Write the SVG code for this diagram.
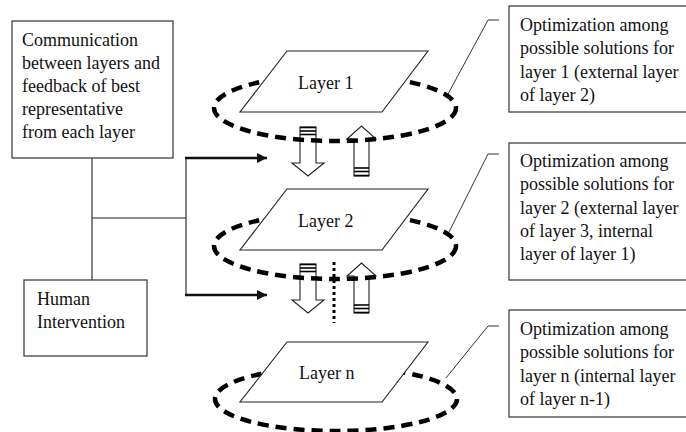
<svg xmlns="http://www.w3.org/2000/svg" width="686" height="432" viewBox="0 0 686 432">
<defs>
<style>
.t{font-family:"Liberation Serif","Times New Roman",serif;font-size:18px;fill:#111}
.box{fill:#fff;stroke:#333;stroke-width:1.2}
.thin{fill:none;stroke:#222;stroke-width:1.1}
.thick{fill:none;stroke:#111;stroke-width:2.5}
.ell{fill:none;stroke:#000;stroke-width:4.5;stroke-dasharray:11 7}
.par{fill:#fff;stroke:#222;stroke-width:1.1}
.blk{fill:#fff;stroke:#222;stroke-width:1.1}
.stripe{stroke:#000;stroke-width:1.6}
.lead{fill:none;stroke:#333;stroke-width:1}
</style>
<marker id="ah" viewBox="0 0 10 10" refX="10" refY="5" markerWidth="4" markerHeight="4" orient="auto" markerUnits="strokeWidth">
<path d="M0,0 L10,5 L0,10 Z" fill="#111"/>
</marker>
</defs>
<rect width="686" height="432" fill="#fff"/>

<g id="connectors">
<line class="thin" x1="92" y1="158" x2="92" y2="280"/>
<line class="thin" x1="92" y1="218" x2="186" y2="218"/>
<line class="thin" x1="186" y1="158" x2="186" y2="295"/>
<line class="thick" x1="185" y1="158" x2="267" y2="158" marker-end="url(#ah)"/>
<line class="thick" x1="185" y1="295" x2="267" y2="295" marker-end="url(#ah)"/>
<polyline class="lead" points="499,20 488,20 448,94"/>
<polyline class="lead" points="499,154 488,154 449,232"/>
<polyline class="lead" points="499,326 488,326 446,378"/>
<g id="arrows12">
<path class="blk" d="M300,127 H316 V163 H324 L308,176 L292,163 H300 Z"/>
<line class="stripe" x1="300" y1="127.5" x2="316" y2="127.5"/>
<line class="stripe" x1="300" y1="131" x2="316" y2="131"/>
<line class="stripe" x1="300" y1="134.5" x2="316" y2="134.5"/>
<path class="blk" d="M354,176 H369 V139 H376 L361.5,126 L347,139 H354 Z"/>
<line class="stripe" x1="354" y1="168" x2="369" y2="168"/>
<line class="stripe" x1="354" y1="171.5" x2="369" y2="171.5"/>
<line class="stripe" x1="354" y1="175.5" x2="369" y2="175.5"/>
</g>
<g id="arrows2n">
<path class="blk" d="M300,264 H316 V300 H324 L308,313 L292,300 H300 Z"/>
<line class="stripe" x1="300" y1="264.5" x2="316" y2="264.5"/>
<line class="stripe" x1="300" y1="268" x2="316" y2="268"/>
<line class="stripe" x1="300" y1="271.5" x2="316" y2="271.5"/>
<path class="blk" d="M354,313 H369 V276 H376 L361.5,263 L347,276 H354 Z"/>
<line class="stripe" x1="354" y1="305" x2="369" y2="305"/>
<line class="stripe" x1="354" y1="308.5" x2="369" y2="308.5"/>
<line class="stripe" x1="354" y1="312.5" x2="369" y2="312.5"/>
<line x1="334" y1="262" x2="334" y2="323" stroke="#000" stroke-width="3" stroke-dasharray="3 3"/>
</g>
</g>

<g id="comm">
<rect class="box" x="12" y="21" width="161" height="137"/>
<text class="t" x="22" y="46">Communication</text>
<text class="t" x="22" y="69">between layers and</text>
<text class="t" x="22" y="92">feedback of best</text>
<text class="t" x="22" y="115">representative</text>
<text class="t" x="22" y="138">from each layer</text>
</g>

<g id="human">
<rect class="box" x="24" y="280" width="123" height="76"/>
<text class="t" x="37" y="305">Human</text>
<text class="t" x="37" y="328">Intervention</text>
</g>

<g id="layer1">
<ellipse class="ell" cx="335" cy="108" rx="121" ry="33"/>
<polygon class="par" points="287,51 428,51 382,112 240,112"/>
<text class="t" x="298" y="89">Layer 1</text>
</g>

<g id="layer2">
<ellipse class="ell" cx="335" cy="246" rx="121" ry="33"/>
<polygon class="par" points="287,189 428,189 382,250 240,250"/>
<text class="t" x="298" y="227">Layer 2</text>
</g>

<g id="layern">
<ellipse class="ell" cx="336" cy="399" rx="121" ry="32"/>
<polygon class="par" points="287,342 428,342 382,402 240,402"/>
<text class="t" x="299" y="379">Layer n</text>
</g>

<g id="opt1">
<rect class="box" x="509" y="6" width="190" height="106"/>
<text class="t" x="520" y="31">Optimization among</text>
<text class="t" x="520" y="54">possible solutions for</text>
<text class="t" x="520" y="78">layer 1 (external layer</text>
<text class="t" x="520" y="101">of layer 2)</text>
</g>

<g id="opt2">
<rect class="box" x="509" y="143" width="190" height="137"/>
<text class="t" x="520" y="167">Optimization among</text>
<text class="t" x="520" y="190">possible solutions for</text>
<text class="t" x="520" y="214">layer 2 (external layer</text>
<text class="t" x="520" y="237">of layer 3, internal</text>
<text class="t" x="520" y="260">layer of layer 1)</text>
</g>

<g id="optn">
<rect class="box" x="509" y="310" width="190" height="107"/>
<text class="t" x="520" y="335">Optimization among</text>
<text class="t" x="520" y="358">possible solutions for</text>
<text class="t" x="520" y="382">layer n (internal layer</text>
<text class="t" x="520" y="405">of layer n-1)</text>
</g>
</svg>
